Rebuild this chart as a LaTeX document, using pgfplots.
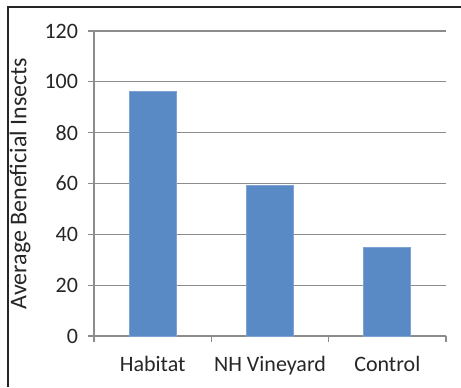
\documentclass[border=0pt]{standalone}
\usepackage{pgfplots}
\pgfplotsset{compat=1.18}
\usepackage{fontspec}
\setmainfont{Carlito}
\definecolor{barblue}{HTML}{5A8AC6}
\definecolor{baredge}{HTML}{7EA3D3}
\definecolor{gridgray}{HTML}{8C8C8C}
\definecolor{txt}{HTML}{262626}
\begin{document}
\begin{tikzpicture}
\useasboundingbox (0pt,0pt) rectangle (345.75pt,290.25pt);
% chart frame (left and top edges)
\draw[line width=1.5pt,black!85] (6pt,0pt) -- (6pt,285pt) -- (345.75pt,285pt);
\begin{axis}[
  at={(70.5pt,38.25pt)}, anchor=south west,
  scale only axis,
  width=264pt, height=228.75pt,
  ymin=0, ymax=120, ytick={0,20,...,120},
  xmin=-0.5, xmax=2.5,
  xtick={0,1,2},
  xticklabels={Habitat, NH Vineyard, Control},
  minor xtick={-0.5,0.5,1.5,2.5},
  axis x line*=bottom, axis y line*=left,
  axis line style={gridgray, line width=0.9pt, -},
  ymajorgrids,
  major grid style={gridgray, line width=0.9pt},
  tick align=outside,
  major tick length=4.5pt,
  minor tick length=4.5pt,
  xtick style={draw=none},
  minor x tick style={draw=gridgray, line width=0.9pt},
  ytick style={gridgray, line width=0.9pt},
  ticklabel style={font=\fontsize{16.5}{18}\selectfont, text=txt},
  /pgf/number format/assume math mode=true,
  yticklabel style={xshift=-4pt},
  xticklabel style={yshift=-7pt},
  ylabel={Average Beneficial Insects},
  ylabel style={font=\fontsize{18}{20}\selectfont, text=txt, at={(-0.21,0.5)}, anchor=center},
]
\addplot[ybar, bar width=35.25pt, fill=barblue, draw=baredge, line width=0.5pt]
  coordinates {(0,96.3) (1,59.3) (2,35.0)};
\end{axis}
\end{tikzpicture}
\end{document}
